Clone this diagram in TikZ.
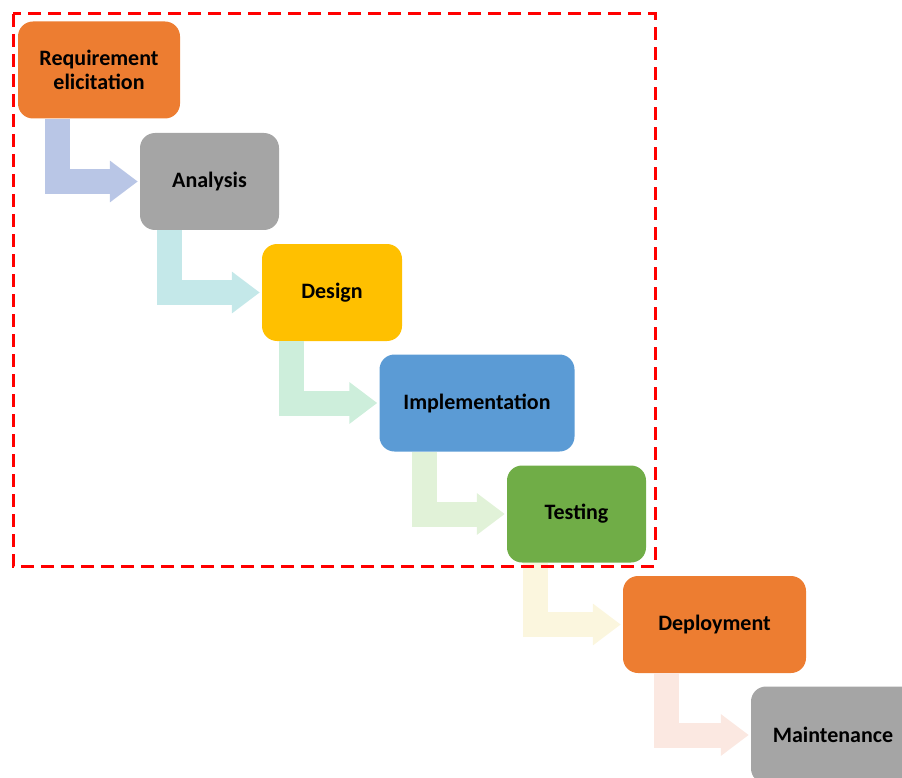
\documentclass[tikz,border=0pt]{standalone}
\usepackage{fontspec}
\setmainfont{Carlito}
\usetikzlibrary{arrows.meta}

\definecolor{stageorange}{HTML}{ED7D31}
\definecolor{stagegray}{HTML}{A5A5A5}
\definecolor{stageyellow}{HTML}{FFC000}
\definecolor{stageblue}{HTML}{5B9BD5}
\definecolor{stagegreen}{HTML}{70AD47}
\definecolor{flowA}{HTML}{B9C6E6}
\definecolor{flowB}{HTML}{C4E8E9}
\definecolor{flowC}{HTML}{CDEEDB}
\definecolor{flowD}{HTML}{E1F2D8}
\definecolor{flowE}{HTML}{FBF6DE}
\definecolor{flowF}{HTML}{FBE8E1}

\tikzset{
  stage/.style={rounded corners=15pt, inner sep=0pt, minimum height=97pt,
    align=center, font=\fontsize{22}{24}\selectfont\bfseries},
  flow/.style={line width=25pt, shorten >=2pt,
    -{Triangle[length=28pt,width=40pt]}}
}

\begin{document}
\begin{tikzpicture}[x=1pt,y=-1pt]
  \useasboundingbox (0,0) rectangle (902,778);

  \node (req)    at (99,70)      [stage, fill=stageorange, minimum width=162pt] {Requirement\\elicitation};
  \node (ana)    at (209.5,181.5) [stage, fill=stagegray, minimum width=139pt] {Analysis};
  \node (des)    at (332,292.5)  [stage, fill=stageyellow, minimum width=140pt] {Design};
  \node (impl)   at (477,403)    [stage, fill=stageblue, minimum width=195pt] {Implementation};
  \node (test)   at (576.5,514)  [stage, fill=stagegreen, minimum width=139pt] {Testing};
  \node (deploy) at (714.5,624.5) [stage, fill=stageorange, minimum width=183pt] {Deployment};
  \node (maint)  at (833,735)    [stage, fill=stagegray, minimum width=164pt] {Maintenance};

  % bent arrows between the stages
  \draw[flow, flowA] ([xshift=40pt]req.south west) |- (ana.west);
  \draw[flow, flowB] ([xshift=29.5pt]ana.south west) |- (des.west);
  \draw[flow, flowC] ([xshift=29.5pt]des.south west) |- (impl.west);
  \draw[flow, flowD] ([xshift=45.5pt]impl.south west) |- (test.west);
  \draw[flow, flowE] ([xshift=28.5pt]test.south west) |- (deploy.west);
  \draw[flow, flowF] ([xshift=44pt]deploy.south west) |- (maint.west);

  \draw[red, line width=3pt, dash pattern=on 13pt off 7pt] (13,14) rectangle (655,566);
\end{tikzpicture}
\end{document}
